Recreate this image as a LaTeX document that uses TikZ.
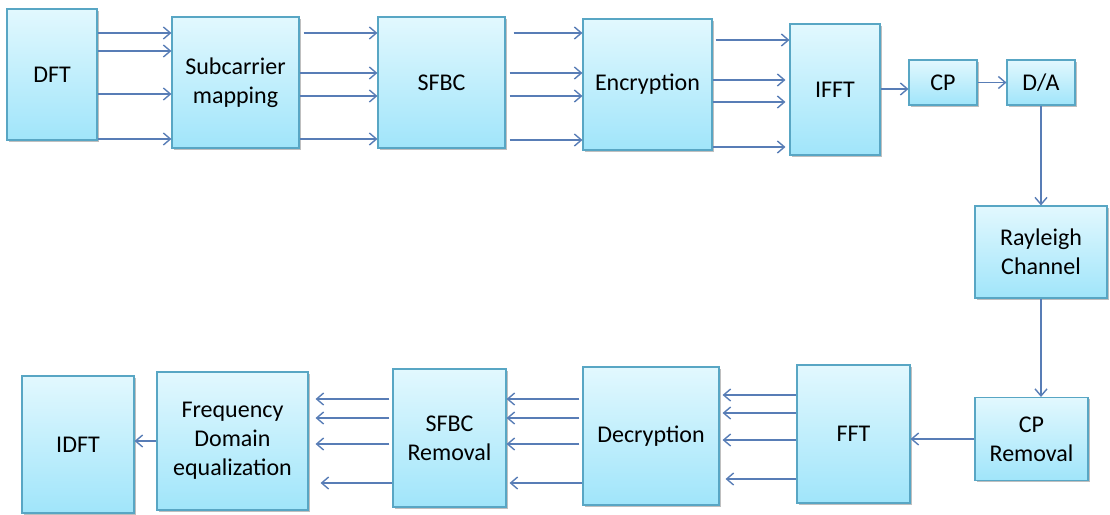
\documentclass[tikz,border=0pt]{standalone}
\usepackage{fontspec}
\setmainfont{Carlito}
\usetikzlibrary{arrows.meta,shadows}
\definecolor{boxline}{RGB}{88,166,196}
\definecolor{boxtop}{RGB}{226,248,254}
\definecolor{boxbot}{RGB}{160,229,250}
\definecolor{arrcol}{RGB}{88,125,182}
\begin{document}
\begin{tikzpicture}[x=1pt,y=-1pt,
  blk/.style={draw=boxline, line width=1.1pt, top color=boxtop, bottom color=boxbot,
    inner sep=0pt, align=center, font=\fontsize{24}{29}\selectfont,
    drop shadow={shadow xshift=1.5pt, shadow yshift=-1.5pt, fill=black, opacity=0.25}},
  arr/.style={draw=arrcol, line width=1.4pt, -{Straight Barb[length=7pt,width=12pt]}}
]
\useasboundingbox (0,0) rectangle (1110,514);
% top row
\node[blk, minimum width=90pt, minimum height=131pt] (dft) at (52,74.5) {DFT};
\node[blk, minimum width=127pt, minimum height=131pt] (sub) at (235.5,82.5) {Subcarrier\\mapping};
\node[blk, minimum width=127pt, minimum height=131pt] (sfbc) at (441.5,82.5) {SFBC};
\node[blk, minimum width=129pt, minimum height=131pt] (enc) at (647.5,84.5) {Encryption};
\node[blk, minimum width=90pt, minimum height=131pt] (ifft) at (835,89.5) {IFFT};
\node[blk, minimum width=68pt, minimum height=45pt] (cp) at (943,82.5) {CP};
\node[blk, minimum width=68pt, minimum height=45pt] (da) at (1041,82.5) {D/A};
\node[blk, minimum width=132pt, minimum height=92pt] (ray) at (1041,252) {Rayleigh\\Channel};
% bottom row
\node[blk, minimum width=113pt, minimum height=83pt] (cpr) at (1031.5,439) {CP\\Removal};
\node[blk, minimum width=113pt, minimum height=138pt] (fft) at (853.5,434) {FFT};
\node[blk, minimum width=136pt, minimum height=138pt] (dec) at (651,436) {Decryption};
\node[blk, minimum width=113pt, minimum height=138pt] (sfbcr) at (449.5,438) {SFBC\\Removal};
\node[blk, minimum width=151pt, minimum height=138pt] (fde) at (232.5,441) {Frequency\\Domain\\equalization};
\node[blk, minimum width=112pt, minimum height=137pt] (idft) at (78,444.5) {IDFT};
% DFT -> Sub
\foreach \yy in {33,51,94,139} \draw[arr] (dft.east |- 0,\yy) -- (sub.west |- 0,\yy);
% Sub -> SFBC
\draw[arr, shorten <=4pt] (sub.east |- 0,33) -- (sfbc.west |- 0,33);
\foreach \yy in {73,96,139} \draw[arr] (sub.east |- 0,\yy) -- (sfbc.west |- 0,\yy);
% SFBC -> Enc
\draw[arr, shorten <=8pt] (sfbc.east |- 0,33) -- (enc.west |- 0,33);
\foreach \yy in {73,96,140} \draw[arr, shorten <=4pt] (sfbc.east |- 0,\yy) -- (enc.west |- 0,\yy);
% Enc -> IFFT
\draw[arr, shorten <=3pt] (enc.east |- 0,40) -- (ifft.west |- 0,40);
\foreach \yy in {80,102,147} \draw[arr, shorten >=4pt] (enc.east |- 0,\yy) -- (ifft.west |- 0,\yy);
% chain
\draw[arr] (ifft.east |- 0,89) -- (cp.west |- 0,89);
\draw[arr] (cp.east) -- (da.west);
\draw[arr] (da.south) -- (ray.north);
\draw[arr] (ray.south) -- (ray.south |- cpr.north);
\draw[arr] (cpr.west) -- (fft.east |- cpr.west);
% FFT -> Dec
\foreach \yy in {395,413,440} \draw[arr, shorten >=3pt] (fft.west |- 0,\yy) -- (dec.east |- 0,\yy);
\draw[arr, shorten >=6pt] (fft.west |- 0,479) -- (dec.east |- 0,479);
% Dec -> SFBCR
\foreach \yy in {399,418,444} \draw[arr, shorten <=3pt] (dec.west |- 0,\yy) -- (sfbcr.east |- 0,\yy);
\draw[arr, shorten >=3pt] (dec.west |- 0,483) -- (sfbcr.east |- 0,483);
% SFBCR -> FDE
\foreach \yy in {399,418,444} \draw[arr, shorten <=3pt, shorten >=7pt] (sfbcr.west |- 0,\yy) -- (fde.east |- 0,\yy);
\draw[arr, shorten >=12pt] (sfbcr.west |- 0,483) -- (fde.east |- 0,483);
% FDE -> IDFT
\draw[arr] (fde.west) -- (idft.east |- fde.west);
\end{tikzpicture}
\end{document}
